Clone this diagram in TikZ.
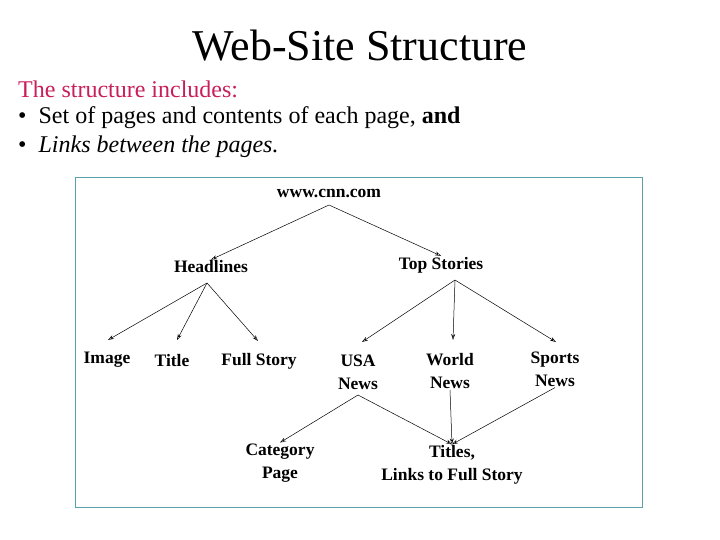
\documentclass[tikz,border=0pt]{standalone}
\usetikzlibrary{arrows.meta}
\usepackage{fontspec}
\setmainfont{Liberation Serif}
\begin{document}
\begin{tikzpicture}[x=1pt,y=-1pt,
  lab/.style={font=\fontsize{17.5}{23}\selectfont\bfseries, align=center, inner sep=1pt},
  arr/.style={-{Stealth[length=6pt,width=4pt,open]}, line width=0.5pt}]
\useasboundingbox (0,0) rectangle (720,540);
\definecolor{boxc}{RGB}{90,160,170}
\definecolor{mag}{RGB}{200,30,90}
\node (title) at (360,46) {\fontsize{44}{46}\selectfont Web-Site Structure};
\node[anchor=west, text=mag, inner sep=0] (t1) at (18,89) {\fontsize{24}{26}\selectfont The structure includes:};
\node[anchor=west, inner sep=0] (t2) at (18,118) {\fontsize{24}{26}\selectfont \textbullet\ \ Set of pages and contents of each page, \textbf{and}};
\node[anchor=west, inner sep=0] (t3) at (18,147) {\fontsize{24}{26}\selectfont \textbullet\ \ \textit{Links between the pages.}};
\draw[boxc, line width=0.8pt] (75,177) rectangle (642,507);
\node[lab] (cnn) at (329,194) {www.cnn.com};
\node[lab] (head) at (211,267) {Headlines};
\node[lab] (top) at (441,265) {Top Stories};
\node[lab] (img) at (107,360) {Image};
\node[lab] (tit) at (172,361) {Title};
\node[lab] (full) at (259,361) {Full Story};
\node[lab] (usa) at (358,372) {USA\\News};
\node[lab] (world) at (450,371) {World\\News};
\node[lab] (sports) at (555,369) {Sports\\News};
\node[lab] (cat) at (280,463) {Category\\Page};
\node[lab] (links) at (452,465) {Titles,\\Links to Full Story};
\coordinate (c0) at (329,205);
\coordinate (h0) at (207,283);
\coordinate (s0) at (455,280);
\coordinate (u0) at (358,395);
\draw[arr] (c0) -- (head.north);
\draw[arr] (c0) -- (top.north);
\draw[arr] (h0) -- (108,340);
\draw[arr] (h0) -- (177,340);
\draw[arr] (h0) -- (258,341);
\draw[arr] (s0) -- (362,342);
\draw[arr] (s0) -- (453,340);
\draw[arr] (s0) -- (556,342);
\draw[arr] (u0) -- (cat.north);
\draw[arr] (u0) -- (links.north);
\draw[arr] (world.south) -- (links.north);
\draw[arr] (sports.south) -- (links.north);
\end{tikzpicture}
\end{document}
